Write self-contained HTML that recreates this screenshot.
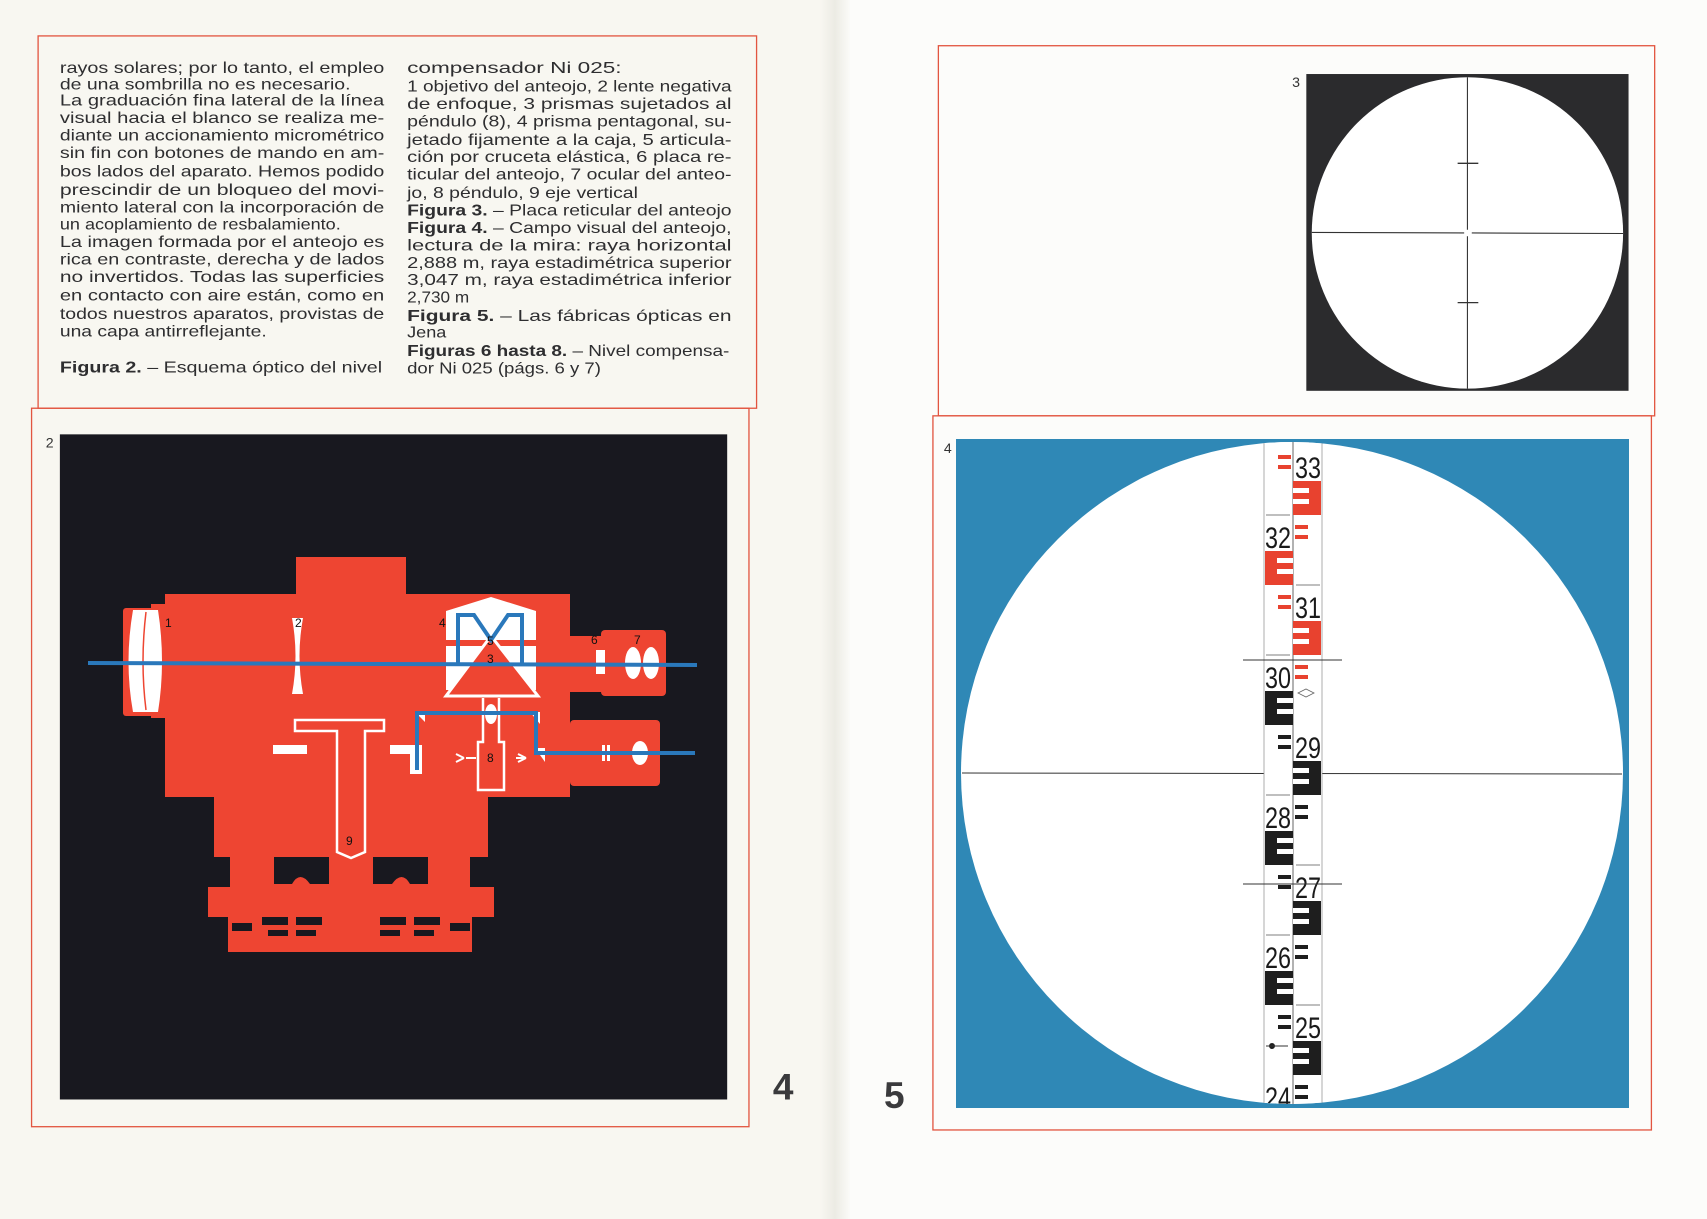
<!DOCTYPE html>
<html><head><meta charset="utf-8"><style>
html,body{margin:0;padding:0;background:#f8f7f1;}
svg{display:block}
.t{font-family:"Liberation Sans",sans-serif;font-size:14.5px;fill:#2e2e30}
.b{font-weight:bold}
.lb{font-family:"Liberation Sans",sans-serif;font-size:12px;fill:#111}
</style></head><body>
<svg width="1707" height="1219" viewBox="0 0 1707 1219" xmlns="http://www.w3.org/2000/svg">
<defs>
<linearGradient id="fold" x1="0" x2="1">
<stop offset="0" stop-color="#f8f7f1"/><stop offset="0.5" stop-color="#ecebe4"/><stop offset="1" stop-color="#fbfbf8"/>
</linearGradient>
<clipPath id="cc"><circle cx="1292" cy="773" r="331"/></clipPath>
</defs>
<rect x="0" y="0" width="1707" height="1219" fill="#f8f7f1"/>
<rect x="825" y="0" width="882" height="1219" fill="#fcfcfa"/>
<rect x="820" y="0" width="30" height="1219" fill="url(#fold)"/>

<g transform="scale(1.0886)">
<rect x="35" y="33" width="660" height="342" fill="none" stroke="#e25540" stroke-width="1.2"/>
<rect x="29" y="375" width="659" height="660" fill="none" stroke="#e25540" stroke-width="1.2"/>
<rect x="55" y="399" width="613" height="611" fill="#18181f"/>
<text class="lb" x="42" y="411" style="font-size:13px;fill:#333">2</text>
<text x="710" y="1010" style="font-family:'Liberation Sans',sans-serif;font-weight:bold;font-size:34px;fill:#3a3a3c">4</text>

<g class="t">
<text x="55" y="67" textLength="298" lengthAdjust="spacingAndGlyphs">rayos solares; por lo tanto, el empleo</text>
<text x="55" y="82" textLength="267" lengthAdjust="spacingAndGlyphs">de una sombrilla no es necesario.</text>
<text x="55" y="97" textLength="298" lengthAdjust="spacingAndGlyphs">La graduación fina lateral de la línea</text>
<text x="55" y="113" textLength="298" lengthAdjust="spacingAndGlyphs">visual hacia el blanco se realiza me-</text>
<text x="55" y="129" textLength="298" lengthAdjust="spacingAndGlyphs">diante un accionamiento micrométrico</text>
<text x="55" y="145" textLength="298" lengthAdjust="spacingAndGlyphs">sin fin con botones de mando en am-</text>
<text x="55" y="162" textLength="298" lengthAdjust="spacingAndGlyphs">bos lados del aparato. Hemos podido</text>
<text x="55" y="179" textLength="298" lengthAdjust="spacingAndGlyphs">prescindir de un bloqueo del movi-</text>
<text x="55" y="195" textLength="298" lengthAdjust="spacingAndGlyphs">miento lateral con la incorporación de</text>
<text x="55" y="211" textLength="258" lengthAdjust="spacingAndGlyphs">un acoplamiento de resbalamiento.</text>
<text x="55" y="227" textLength="298" lengthAdjust="spacingAndGlyphs">La imagen formada por el anteojo es</text>
<text x="55" y="243" textLength="298" lengthAdjust="spacingAndGlyphs">rica en contraste, derecha y de lados</text>
<text x="55" y="259" textLength="298" lengthAdjust="spacingAndGlyphs">no invertidos. Todas las superficies</text>
<text x="55" y="276" textLength="298" lengthAdjust="spacingAndGlyphs">en contacto con aire están, como en</text>
<text x="55" y="293" textLength="298" lengthAdjust="spacingAndGlyphs">todos nuestros aparatos, provistas de</text>
<text x="55" y="309" textLength="190" lengthAdjust="spacingAndGlyphs">una capa antirreflejante.</text>
<text x="55" y="342" textLength="296" lengthAdjust="spacingAndGlyphs"><tspan class="b">Figura 2.</tspan> – Esquema óptico del nivel</text>
</g>
<g class="t">
<text x="374" y="67" textLength="197" lengthAdjust="spacingAndGlyphs">compensador Ni 025:</text>
<text x="374" y="84" textLength="298" lengthAdjust="spacingAndGlyphs">1 objetivo del anteojo, 2 lente negativa</text>
<text x="374" y="100" textLength="298" lengthAdjust="spacingAndGlyphs">de enfoque, 3 prismas sujetados al</text>
<text x="374" y="116" textLength="298" lengthAdjust="spacingAndGlyphs">péndulo (8), 4 prisma pentagonal, su-</text>
<text x="374" y="133" textLength="298" lengthAdjust="spacingAndGlyphs">jetado fijamente a la caja, 5 articula-</text>
<text x="374" y="149" textLength="298" lengthAdjust="spacingAndGlyphs">ción por cruceta elástica, 6 placa re-</text>
<text x="374" y="165" textLength="298" lengthAdjust="spacingAndGlyphs">ticular del anteojo, 7 ocular del anteo-</text>
<text x="374" y="182" textLength="212" lengthAdjust="spacingAndGlyphs">jo, 8 péndulo, 9 eje vertical</text>
<text x="374" y="198" textLength="298" lengthAdjust="spacingAndGlyphs"><tspan class="b">Figura 3.</tspan> – Placa reticular del anteojo</text>
<text x="374" y="214" textLength="298" lengthAdjust="spacingAndGlyphs"><tspan class="b">Figura 4.</tspan> – Campo visual del anteojo,</text>
<text x="374" y="230" textLength="298" lengthAdjust="spacingAndGlyphs">lectura de la mira: raya horizontal</text>
<text x="374" y="246" textLength="298" lengthAdjust="spacingAndGlyphs">2,888 m, raya estadimétrica superior</text>
<text x="374" y="262" textLength="298" lengthAdjust="spacingAndGlyphs">3,047 m, raya estadimétrica inferior</text>
<text x="374" y="278" textLength="57" lengthAdjust="spacingAndGlyphs">2,730 m</text>
<text x="374" y="295" textLength="298" lengthAdjust="spacingAndGlyphs"><tspan class="b">Figura 5.</tspan> – Las fábricas ópticas en</text>
<text x="374" y="310" textLength="36" lengthAdjust="spacingAndGlyphs">Jena</text>
<text x="374" y="327" textLength="296" lengthAdjust="spacingAndGlyphs"><tspan class="b">Figuras 6 hasta 8.</tspan> – Nivel compensa-</text>
<text x="374" y="343" textLength="178" lengthAdjust="spacingAndGlyphs">dor Ni 025 (págs. 6 y 7)</text>
</g>

<rect x="862" y="42" width="658" height="340" fill="none" stroke="#e25540" stroke-width="1.2"/>
<rect x="857" y="382" width="660" height="656" fill="none" stroke="#e25540" stroke-width="1.2"/>
<text x="812" y="1018" style="font-family:'Liberation Sans',sans-serif;font-weight:bold;font-size:34px;fill:#3a3a3c">5</text>

<text class="lb" x="1187" y="80" style="font-size:13px;fill:#333">3</text>
<rect x="1200" y="68" width="296" height="291" fill="#2b2b2d"/>
<ellipse cx="1348" cy="214" rx="143" ry="143" fill="#fff"/>
<line x1="1205" y1="213.5" x2="1345" y2="214" stroke="#333" stroke-width="1"/>
<line x1="1352" y1="214" x2="1491" y2="214.5" stroke="#333" stroke-width="1"/>
<line x1="1348" y1="71" x2="1348" y2="211" stroke="#333" stroke-width="1"/>
<line x1="1348" y1="217" x2="1348" y2="357" stroke="#333" stroke-width="1"/>
<line x1="1339" y1="150" x2="1358" y2="150" stroke="#333" stroke-width="1.2"/>
<line x1="1339" y1="278" x2="1358" y2="278" stroke="#333" stroke-width="1.2"/>
<text class="lb" x="867" y="416" style="font-size:13px;fill:#333">4</text>
</g>

<!-- fig 4 -->
<rect x="956" y="439" width="673" height="669" fill="#2f88b6"/>
<circle cx="1292" cy="773" r="331" fill="#fff"/>
<line x1="962" y1="773" x2="1622" y2="774" stroke="#333" stroke-width="1"/>
<g clip-path="url(#cc)">
<rect x="1264" y="440" width="58" height="670" fill="#fff"/>
<line x1="1264" y1="440" x2="1264" y2="1110" stroke="#999" stroke-width="0.8"/>
<line x1="1322" y1="440" x2="1322" y2="1110" stroke="#999" stroke-width="0.8"/>
<line x1="1293" y1="440" x2="1293" y2="1110" stroke="#555" stroke-width="0.9"/>
<g font-family="Liberation Sans, sans-serif" font-size="30" fill="#1a1a1a">
<!-- k0 3.3 right c=468 -->
<rect x="1278" y="455" width="13" height="4" fill="#e8422f"/><rect x="1278" y="465" width="13" height="4" fill="#e8422f"/>
<text x="1295" y="478" textLength="26" lengthAdjust="spacingAndGlyphs">33</text>
<rect x="1293" y="481" width="28" height="34" fill="#e8422f"/><rect x="1293" y="488" width="16" height="5" fill="#fff"/><rect x="1293" y="499" width="16" height="5" fill="#fff"/>
<!-- k1 3.2 left c=538 -->
<rect x="1295" y="525" width="13" height="4" fill="#e8422f"/><rect x="1295" y="535" width="13" height="4" fill="#e8422f"/>
<text x="1265" y="548" textLength="26" lengthAdjust="spacingAndGlyphs">32</text>
<rect x="1265" y="551" width="28" height="34" fill="#e8422f"/><rect x="1277" y="558" width="16" height="5" fill="#fff"/><rect x="1277" y="569" width="16" height="5" fill="#fff"/>
<!-- k2 3.1 right c=608 -->
<rect x="1278" y="595" width="13" height="4" fill="#e8422f"/><rect x="1278" y="605" width="13" height="4" fill="#e8422f"/>
<text x="1295" y="618" textLength="26" lengthAdjust="spacingAndGlyphs">31</text>
<rect x="1293" y="621" width="28" height="34" fill="#e8422f"/><rect x="1293" y="628" width="16" height="5" fill="#fff"/><rect x="1293" y="639" width="16" height="5" fill="#fff"/>
<!-- k3 3.0 left c=678 -->
<rect x="1295" y="665" width="13" height="4" fill="#e8422f"/><rect x="1295" y="675" width="13" height="4" fill="#e8422f"/>
<text x="1265" y="688" textLength="26" lengthAdjust="spacingAndGlyphs">30</text>
<path d="M1298,693 l8,-4 l8,4 l-8,4z" fill="none" stroke="#666" stroke-width="0.8"/>
<rect x="1265" y="691" width="28" height="34" fill="#1e1e1e"/><rect x="1277" y="698" width="16" height="5" fill="#fff"/><rect x="1277" y="709" width="16" height="5" fill="#fff"/>
<!-- k4 2.9 right c=748 -->
<rect x="1278" y="735" width="13" height="4" fill="#1e1e1e"/><rect x="1278" y="745" width="13" height="4" fill="#1e1e1e"/>
<text x="1295" y="758" textLength="26" lengthAdjust="spacingAndGlyphs">29</text>
<rect x="1293" y="761" width="28" height="34" fill="#1e1e1e"/><rect x="1293" y="768" width="16" height="5" fill="#fff"/><rect x="1293" y="779" width="16" height="5" fill="#fff"/>
<!-- k5 2.8 left c=818 -->
<rect x="1295" y="805" width="13" height="4" fill="#1e1e1e"/><rect x="1295" y="815" width="13" height="4" fill="#1e1e1e"/>
<text x="1265" y="828" textLength="26" lengthAdjust="spacingAndGlyphs">28</text>
<rect x="1265" y="831" width="28" height="34" fill="#1e1e1e"/><rect x="1277" y="838" width="16" height="5" fill="#fff"/><rect x="1277" y="849" width="16" height="5" fill="#fff"/>
<!-- k6 2.7 right c=888 -->
<rect x="1278" y="875" width="13" height="4" fill="#1e1e1e"/><rect x="1278" y="885" width="13" height="4" fill="#1e1e1e"/>
<text x="1295" y="898" textLength="26" lengthAdjust="spacingAndGlyphs">27</text>
<rect x="1293" y="901" width="28" height="34" fill="#1e1e1e"/><rect x="1293" y="908" width="16" height="5" fill="#fff"/><rect x="1293" y="919" width="16" height="5" fill="#fff"/>
<!-- k7 2.6 left c=958 -->
<rect x="1295" y="945" width="13" height="4" fill="#1e1e1e"/><rect x="1295" y="955" width="13" height="4" fill="#1e1e1e"/>
<text x="1265" y="968" textLength="26" lengthAdjust="spacingAndGlyphs">26</text>
<rect x="1265" y="971" width="28" height="34" fill="#1e1e1e"/><rect x="1277" y="978" width="16" height="5" fill="#fff"/><rect x="1277" y="989" width="16" height="5" fill="#fff"/>
<!-- k8 2.5 right c=1028 -->
<rect x="1278" y="1015" width="13" height="4" fill="#1e1e1e"/><rect x="1278" y="1025" width="13" height="4" fill="#1e1e1e"/>
<text x="1295" y="1038" textLength="26" lengthAdjust="spacingAndGlyphs">25</text>
<circle cx="1272" cy="1046" r="3" fill="#1e1e1e"/><line x1="1266" y1="1046" x2="1288" y2="1046" stroke="#333" stroke-width="1"/>
<rect x="1293" y="1041" width="28" height="34" fill="#1e1e1e"/><rect x="1293" y="1048" width="16" height="5" fill="#fff"/><rect x="1293" y="1059" width="16" height="5" fill="#fff"/>
<!-- k9 2.4 left c=1098 -->
<rect x="1295" y="1085" width="13" height="4" fill="#1e1e1e"/><rect x="1295" y="1095" width="13" height="4" fill="#1e1e1e"/>
<text x="1265" y="1108" textLength="26" lengthAdjust="spacingAndGlyphs">24</text>
</g>
<g stroke="#555" stroke-width="0.8">
<line x1="1266" y1="515" x2="1290" y2="515"/><line x1="1296" y1="585" x2="1320" y2="585"/>
<line x1="1266" y1="655" x2="1290" y2="655"/><line x1="1266" y1="795" x2="1290" y2="795"/>
<line x1="1296" y1="865" x2="1320" y2="865"/><line x1="1266" y1="935" x2="1290" y2="935"/>
<line x1="1296" y1="1005" x2="1320" y2="1005"/>
</g>
</g>
<line x1="1243" y1="660" x2="1342" y2="660" stroke="#333" stroke-width="1"/>
<line x1="1243" y1="884" x2="1342" y2="884" stroke="#333" stroke-width="1"/>

<!-- fig 2 instrument -->
<g fill="#ee4532">
<rect x="296" y="557" width="110" height="40"/>
<rect x="165" y="594" width="405" height="203"/>
<rect x="151" y="604" width="20" height="114"/>
<rect x="123" y="608" width="34" height="108" rx="3"/>
<rect x="570" y="636" width="31" height="56"/>
<rect x="601" y="630" width="65" height="66" rx="4"/>
<rect x="570" y="720" width="90" height="66" rx="4"/>
<rect x="214" y="797" width="274" height="60"/>
<rect x="230" y="857" width="240" height="30"/>
<rect x="208" y="887" width="286" height="30"/>
<rect x="228" y="917" width="244" height="35"/>
</g>
<g fill="#18181f">
<path d="M274,857 H329 V884 H310 Q300,870 292,884 H274Z"/>
<path d="M373,857 H428 V884 H410 Q402,870 392,884 H373Z"/>
<rect x="262" y="917" width="26" height="8"/><rect x="296" y="917" width="26" height="8"/>
<rect x="380" y="917" width="26" height="8"/><rect x="414" y="917" width="26" height="8"/>
<rect x="232" y="923" width="20" height="8"/><rect x="450" y="923" width="20" height="8"/>
<rect x="268" y="930" width="20" height="6"/><rect x="296" y="930" width="20" height="6"/>
<rect x="380" y="930" width="20" height="6"/><rect x="414" y="930" width="20" height="6"/>
</g>
<path d="M133,610 Q124,662 133,712 L158,712 Q166,662 158,610 Z" fill="#fff"/>
<path d="M146,612 Q140,662 146,710" stroke="#ee4532" stroke-width="1.5" fill="none"/>
<path d="M292,618 L303,618 Q296,656 303,694 L292,694 Q299,656 292,618 Z" fill="#fff"/>
<path d="M446,611 L491,597 L536,611 L536,690 L446,690 Z" fill="#fff"/>
<rect x="446" y="640" width="90" height="6" fill="#ee4532"/>
<path d="M491,636 L446,696 L538,696 Z" fill="#ee4532" stroke="#fff" stroke-width="3"/>
<path d="M483,698 V742 H478 V790 H504 V742 H499 V698" fill="#ee4532" stroke="#fff" stroke-width="2.5"/>
<ellipse cx="491" cy="714" rx="6" ry="10" fill="#fff"/>
<path d="M464,758 l-8,-4 M464,758 l-8,4 M466,758 H476 M526,758 H516 M526,758 l-8,-4 M526,758 l-8,4" stroke="#fff" stroke-width="2" fill="none"/>
<path d="M295,720 H384 V731 H365 V852 L351,858 L337,852 V731 H295 Z" fill="none" stroke="#fff" stroke-width="2.5"/>
<rect x="273" y="745" width="34" height="9" fill="#fff"/>
<rect x="390" y="745" width="32" height="9" fill="#fff"/>
<rect x="410" y="746" width="12" height="28" fill="#fff"/>
<path d="M415,712 L425,712 L425,722 Z" fill="#fff"/>
<path d="M530,712 L540,712 L540,724 Z" fill="#fff"/>
<path d="M535,748 L545,748 L545,762 Z" fill="#fff"/>
<rect x="596" y="650" width="9" height="24" fill="#fff"/>
<ellipse cx="633" cy="663" rx="8" ry="16" fill="#fff"/>
<ellipse cx="651" cy="663" rx="8" ry="16" fill="#fff"/>
<rect x="602" y="745" width="3" height="16" fill="#fff"/><rect x="607" y="745" width="3" height="16" fill="#fff"/>
<ellipse cx="640" cy="753" rx="8" ry="12" fill="#fff"/>
<g stroke="#2a78bb" stroke-width="4" fill="none">
<line x1="88" y1="663" x2="697" y2="665"/>
<path d="M458,663 V615 H474 L491,640 L508,615 H522 V663"/>
<path d="M417,770 V713 H536 V753 H695"/>
</g>
<g class="lb">
<text x="165" y="627">1</text><text x="295" y="627">2</text><text x="439" y="627">4</text>
<text x="487" y="645">5</text><text x="487" y="663">3</text><text x="591" y="644">6</text>
<text x="634" y="644">7</text><text x="487" y="762">8</text><text x="346" y="845">9</text>
</g>
</svg>
</body></html>
